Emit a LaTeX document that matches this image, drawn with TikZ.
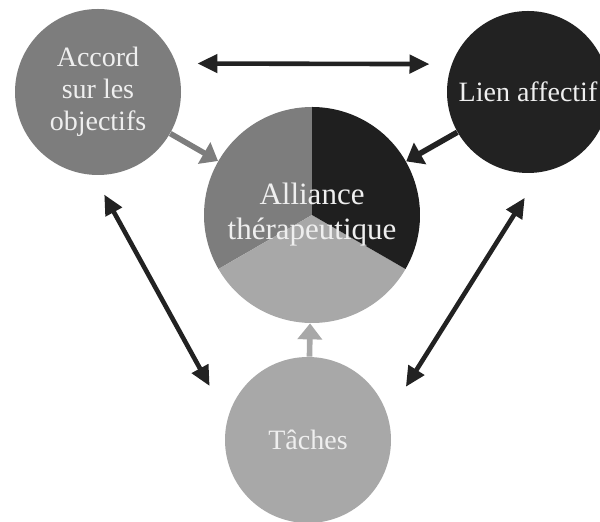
\documentclass[tikz,border=0pt]{standalone}
\usepackage{fontspec}
\setmainfont{Liberation Serif}
\usepackage{tikz}
\usetikzlibrary{arrows.meta}
\definecolor{ink}{HTML}{222222}
\definecolor{midgray}{HTML}{7D7D7D}
\definecolor{lightgray}{HTML}{A8A8A8}
\definecolor{paper}{HTML}{EFEFEF}

\begin{document}
\begin{tikzpicture}[x=0.5pt,y=-0.5pt,
  bubble/.style={circle,minimum size=#1,inner sep=0pt,align=center,text=paper,font=\fontsize{14}{16}\selectfont},
  link/.style={ink,line width=2.3pt,{Triangle[length=10pt,width=9pt]}-{Triangle[length=10pt,width=9pt]}},
  feed/.style={line width=2.8pt,-{Triangle[length=8pt,width=12pt]}}]
\useasboundingbox (0,0) rectangle (600,522);
\node[bubble=83pt,fill=midgray] (acc) at (98,92) {Accord\\sur les\\objectifs};
\node[bubble=81pt,fill=ink] (lien) at (528,92) {Lien affectif};
\node[bubble=83pt,fill=lightgray] (taches) at (308,440) {Tâches};
% pie in the middle
\coordinate (pc) at (312,215);
\begin{scope}[x=1pt,y=1pt]
\fill[midgray] (pc) -- ++(90:54) arc[start angle=90,end angle=210,radius=54] -- cycle;
\fill[lightgray] (pc) -- ++(210:54) arc[start angle=210,end angle=330,radius=54] -- cycle;
\fill[ink!90!black] (pc) -- ++(330:54) arc[start angle=330,end angle=450,radius=54] -- cycle;
\end{scope}
\node[bubble=108pt,font=\fontsize{15.5}{17.5}\selectfont] (all) at (pc) {Alliance\\thérapeutique};
% arrows
\draw[feed,midgray] (acc) -- (all);
\draw[feed,ink] (lien) -- (all);
\draw[feed,lightgray] (taches) -- (all);
\draw[link,shorten <=10.5pt,shorten >=11pt] (acc.20) -- (lien.160);
\draw[link,shorten <=11pt,shorten >=18.5pt] (acc.-93) -- (taches.165);
\draw[link,shorten <=15pt,shorten >=17pt] (lien.-81) -- (taches.17);
\end{tikzpicture}
\end{document}
